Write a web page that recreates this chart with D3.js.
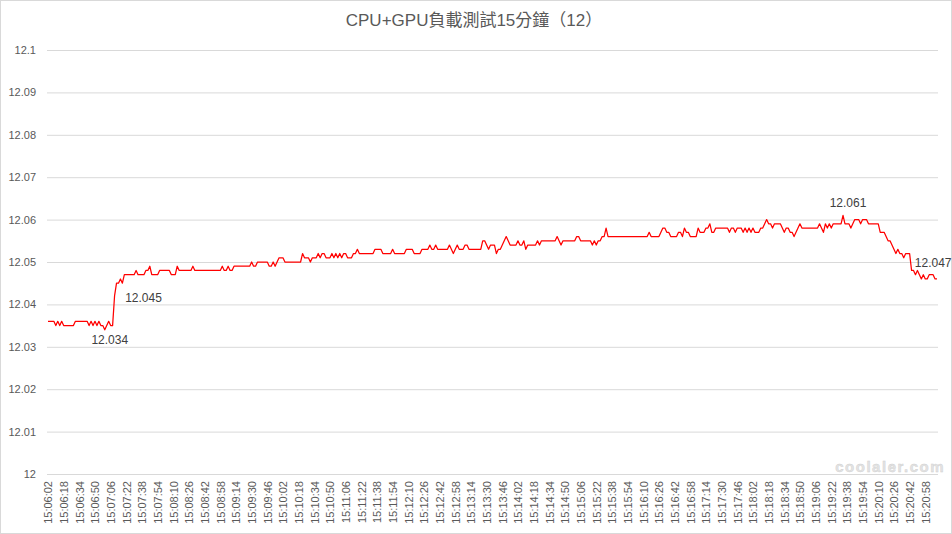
<!DOCTYPE html>
<html>
<head>
<meta charset="utf-8">
<script src="https://cdn.jsdelivr.net/npm/d3@7"></script>
<style>
  html, body { margin: 0; padding: 0; background: #fff; }
  svg { display: block; }
  text { font-family: "Liberation Sans", Arial, "Noto Sans CJK TC", sans-serif; }
</style>
</head>
<body>
<svg id="chart" width="952" height="534"></svg>
<script>
const title = "CPU+GPU負載測試15分鐘（12）";

const tickLabels = ["15:06:02","15:06:18","15:06:34","15:06:50","15:07:06","15:07:22","15:07:38","15:07:54",
"15:08:10","15:08:26","15:08:42","15:08:58","15:09:14","15:09:30","15:09:46","15:10:02","15:10:18","15:10:34",
"15:10:50","15:11:06","15:11:22","15:11:38","15:11:54","15:12:10","15:12:26","15:12:42","15:12:58","15:13:14",
"15:13:30","15:13:46","15:14:02","15:14:18","15:14:34","15:14:50","15:15:06","15:15:22","15:15:38","15:15:54",
"15:16:10","15:16:26","15:16:42","15:16:58","15:17:14","15:17:30","15:17:46","15:18:02","15:18:18","15:18:34",
"15:18:50","15:19:06","15:19:22","15:19:38","15:19:54","15:20:10","15:20:26","15:20:42","15:20:58"];

const yTicks = [12, 12.01, 12.02, 12.03, 12.04, 12.05, 12.06, 12.07, 12.08, 12.09, 12.1];

// voltage readings, one every 2 seconds starting 15:06:02
const voltage = [
12.036,12.036,12.036,12.036,12.035,12.036,12.035,12.036,12.035,12.035,
12.035,12.035,12.035,12.035,12.036,12.036,12.036,12.036,12.036,12.036,
12.036,12.035,12.036,12.035,12.036,12.035,12.036,12.035,12.035,12.034,
12.035,12.036,12.035,12.035,12.042,12.045,12.045,12.046,12.045,12.047,
12.047,12.047,12.047,12.047,12.047,12.048,12.047,12.047,12.047,12.047,
12.048,12.048,12.049,12.047,12.047,12.047,12.047,12.048,12.048,12.048,
12.048,12.048,12.048,12.047,12.047,12.047,12.049,12.048,12.048,12.048,
12.048,12.048,12.048,12.048,12.049,12.048,12.048,12.048,12.048,12.048,
12.048,12.048,12.048,12.048,12.048,12.048,12.048,12.048,12.048,12.049,
12.048,12.048,12.049,12.048,12.048,12.049,12.049,12.049,12.049,12.049,
12.049,12.049,12.049,12.049,12.050,12.049,12.049,12.050,12.050,12.050,
12.050,12.050,12.050,12.049,12.049,12.050,12.049,12.050,12.051,12.051,
12.051,12.050,12.050,12.050,12.050,12.050,12.050,12.050,12.050,12.050,
12.052,12.051,12.051,12.051,12.050,12.051,12.051,12.051,12.052,12.051,
12.052,12.052,12.051,12.051,12.051,12.052,12.051,12.052,12.051,12.052,
12.051,12.052,12.052,12.051,12.051,12.051,12.052,12.052,12.053,12.052,
12.052,12.052,12.052,12.052,12.052,12.052,12.052,12.053,12.053,12.053,
12.053,12.052,12.052,12.052,12.052,12.052,12.053,12.052,12.052,12.052,
12.052,12.052,12.052,12.053,12.053,12.053,12.053,12.052,12.052,12.052,
12.052,12.053,12.053,12.053,12.053,12.054,12.053,12.053,12.054,12.053,
12.053,12.053,12.053,12.053,12.053,12.054,12.053,12.052,12.053,12.054,
12.053,12.053,12.053,12.054,12.054,12.053,12.053,12.053,12.053,12.053,
12.053,12.053,12.055,12.055,12.054,12.053,12.054,12.054,12.054,12.052,
12.053,12.053,12.054,12.055,12.056,12.055,12.054,12.054,12.054,12.054,
12.055,12.054,12.054,12.055,12.053,12.054,12.054,12.054,12.054,12.054,
12.055,12.054,12.055,12.055,12.055,12.055,12.055,12.055,12.055,12.055,
12.056,12.055,12.054,12.055,12.055,12.055,12.055,12.055,12.055,12.055,
12.056,12.056,12.055,12.055,12.055,12.055,12.055,12.055,12.054,12.055,
12.054,12.055,12.055,12.056,12.056,12.058,12.056,12.056,12.056,12.056,
12.056,12.056,12.056,12.056,12.056,12.056,12.056,12.056,12.056,12.056,
12.056,12.056,12.056,12.056,12.056,12.056,12.056,12.057,12.056,12.056,
12.056,12.056,12.056,12.057,12.058,12.058,12.057,12.057,12.056,12.056,
12.056,12.056,12.057,12.057,12.056,12.058,12.057,12.057,12.056,12.056,
12.056,12.056,12.058,12.057,12.057,12.057,12.058,12.058,12.059,12.057,
12.057,12.058,12.058,12.058,12.058,12.058,12.058,12.058,12.057,12.058,
12.058,12.057,12.058,12.058,12.058,12.057,12.058,12.057,12.058,12.057,
12.058,12.057,12.057,12.057,12.058,12.058,12.059,12.060,12.059,12.059,
12.058,12.059,12.059,12.059,12.059,12.058,12.057,12.058,12.058,12.057,
12.057,12.056,12.057,12.058,12.059,12.058,12.058,12.058,12.058,12.058,
12.058,12.058,12.058,12.058,12.059,12.058,12.057,12.059,12.058,12.059,
12.058,12.059,12.059,12.059,12.059,12.059,12.061,12.059,12.059,12.059,
12.058,12.059,12.060,12.060,12.060,12.059,12.060,12.060,12.060,12.059,
12.059,12.059,12.059,12.059,12.059,12.057,12.057,12.057,12.056,12.055,
12.055,12.054,12.053,12.052,12.053,12.052,12.052,12.051,12.052,12.052,
12.052,12.048,12.048,12.047,12.048,12.047,12.046,12.047,12.046,12.046,
12.047,12.047,12.047,12.046,12.046
];

// data labels: index of the labelled reading, its text
const labelIndex = [29, 35, 406, 450];
const labelText  = ["12.034", "12.045", "12.061", "12.047"];
const labelDx    = [5, 27, 5, 4];
const labelDy    = [11, 16, -12, -11];

const svg = d3.select("#chart");
const W = 952, H = 534;
const plotL = 47, plotR = 938, plotT = 50, plotB = 474;

svg.append("rect").attr("x", 0.5).attr("y", 0.5).attr("width", W - 1).attr("height", H - 1)
  .attr("fill", "#fff").attr("stroke", "#d9d9d9");

const n = voltage.length;
const x = d3.scaleLinear().domain([-0.5, n - 0.5]).range([plotL, plotR]);
const y = d3.scaleLinear().domain([12, 12.1]).range([plotB, plotT]);

// gridlines + y labels
const yAxis = d3.axisLeft(y).tickValues(yTicks).tickSize(-(plotR - plotL)).tickPadding(11)
  .tickFormat(d => d3.format("~g")(+d.toFixed(2)));
const gy = svg.append("g").attr("transform", `translate(${plotL},0)`).call(yAxis);
gy.select(".domain").remove();
gy.selectAll(".tick line").attr("stroke", "#d9d9d9").attr("stroke-width", 1);
gy.selectAll(".tick text").attr("fill", "#595959").attr("font-size", 11);

// x axis
const xAxis = d3.axisBottom(x).tickValues(d3.range(0, n, 8)).tickSize(0)
  .tickFormat(d => tickLabels[d / 8]);
const gx = svg.append("g").attr("transform", `translate(0,${plotB})`).call(xAxis);
gx.select(".domain").attr("stroke", "#d9d9d9").attr("d", `M${plotL},0.5H${plotR}`);
gx.selectAll(".tick text")
  .attr("fill", "#595959").attr("font-size", 11)
  .attr("text-anchor", "end")
  .attr("transform", "rotate(-90)")
  .attr("x", -7).attr("y", 0).attr("dy", "0.35em");

// watermark
svg.append("text").attr("x", 945).attr("y", 472).attr("text-anchor", "end")
  .attr("font-size", 15).attr("font-weight", "bold").attr("letter-spacing", 1.5)
  .attr("fill", "#e4e4e4").attr("stroke", "#cfcfcf").attr("stroke-width", 0.4)
  .text("coolaler.com");

// line
const line = d3.line().x((d, i) => x(i)).y(d => y(d));
svg.append("path").datum(voltage)
  .attr("fill", "none").attr("stroke", "#ff0000").attr("stroke-width", 1.25)
  .attr("stroke-linejoin", "round").attr("d", line);

// data labels
labelIndex.forEach((idx, k) => {
  svg.append("text")
    .attr("x", x(idx) + labelDx[k]).attr("y", y(voltage[idx]) + labelDy[k])
    .attr("text-anchor", "middle").attr("dominant-baseline", "middle")
    .attr("font-size", 12).attr("fill", "#404040")
    .text(labelText[k]);
});

// title
svg.append("text").attr("x", 474).attr("y", 22).attr("text-anchor", "middle")
  .attr("dominant-baseline", "middle")
  .attr("font-size", 17).attr("fill", "#595959")
  .attr("font-family", "'Liberation Sans', 'Noto Sans CJK TC', sans-serif")
  .text(title);
</script>
</body>
</html>
